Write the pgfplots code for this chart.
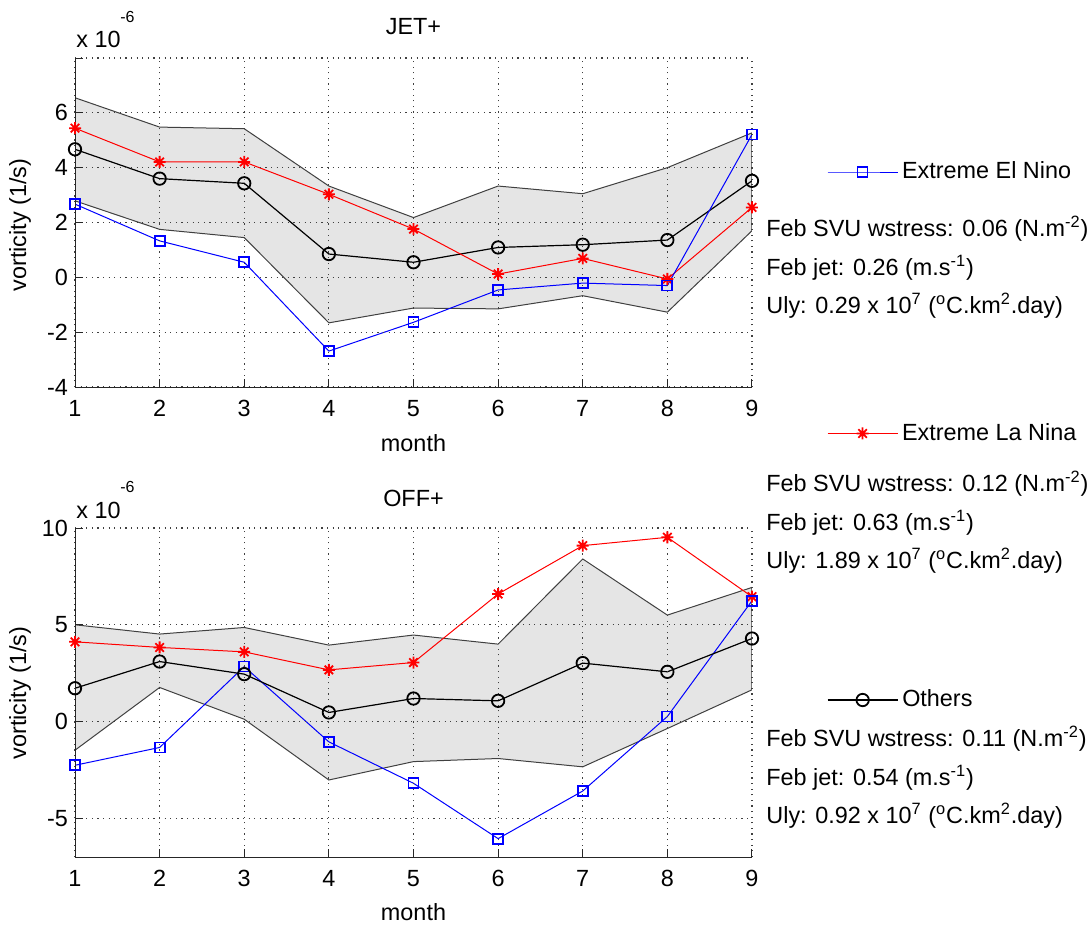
\documentclass[border=0pt]{standalone}
\usepackage{fontspec}
\setmainfont{Liberation Sans}
\usepackage{pgfplots}
\pgfplotsset{compat=1.18}
\def\fsz{\fontsize{11.7}{14}\selectfont}
\pgfdeclareplotmark{ast8}{%
 \pgfpathmoveto{\pgfpoint{-\pgfplotmarksize}{0pt}}\pgfpathlineto{\pgfpoint{\pgfplotmarksize}{0pt}}%
 \pgfpathmoveto{\pgfpoint{0pt}{-\pgfplotmarksize}}\pgfpathlineto{\pgfpoint{0pt}{\pgfplotmarksize}}%
 \pgfpathmoveto{\pgfpoint{-0.707\pgfplotmarksize}{-0.707\pgfplotmarksize}}\pgfpathlineto{\pgfpoint{0.707\pgfplotmarksize}{0.707\pgfplotmarksize}}%
 \pgfpathmoveto{\pgfpoint{-0.707\pgfplotmarksize}{0.707\pgfplotmarksize}}\pgfpathlineto{\pgfpoint{0.707\pgfplotmarksize}{-0.707\pgfplotmarksize}}%
 \pgfusepathqstroke}
\definecolor{bandfill}{gray}{0.9}
\definecolor{bandedge}{gray}{0.25}
\pgfplotsset{
 myax/.style={scale only axis, width=338.5pt, height=164.5pt,
  xmin=1, xmax=9, xtick={1,...,9},
  axis x line*=bottom, axis y line*=left,
  axis line style={-, black!85, line width=0.5pt},
  tick style={black!85, line width=0.5pt}, major tick length=4pt,
  xmajorgrids, ymajorgrids,
  grid style={black!75, line width=0.6pt, dash pattern=on 0.6pt off 2.2pt},
  axis on top,
  /pgf/number format/assume math mode=true,
  tick label style={font=\fsz},
  xticklabel style={yshift=-3pt},
  legend cell align=left,
  legend image code/.code={\draw[mark repeat=2,mark phase=2,#1] plot coordinates {(0pt,0pt) (17.5pt,0pt) (35pt,0pt)};},
  legend style={draw=none, fill=none, inner sep=0pt, anchor=west, font=\fsz},
 },
 bandst/.style={fill=bandfill, draw=bandedge, line width=0.5pt, forget plot},
 blst/.style={blue, line width=0.5pt, mark=square, mark size=2.5pt, mark options={line width=0.9pt, solid}},
 rdst/.style={red, line width=0.5pt, mark=ast8, mark size=3pt, mark options={line width=0.9pt, solid}},
 bkst/.style={black, line width=0.6pt, mark=o, mark size=3.1pt, mark options={line width=0.9pt, solid}},
}
\begin{document}
\begin{tikzpicture}[font=\fsz]
\useasboundingbox (0pt,0pt) rectangle (545.5pt,-463.5pt);
% ---------------- top axis: JET+
\begin{axis}[myax, at={(37.5pt,-193.5pt)}, anchor=south west,
  ymin=-4, ymax=8, ytick={-4,-2,0,2,4,6,8}, yticklabels={-4,-2,0,2,4,6,{}},
  xticklabels={1,2,3,4,5,6,7,8,9},
  legend style={at={(rel axis cs:1.1103,0.6535)}}]
\addplot[bandst] coordinates {(1,6.55) (2,5.48) (3,5.42) (4,3.33) (5,2.18) (6,3.33) (7,3.05) (8,4.00) (9,5.27)
  (9,1.70) (8,-1.27) (7,-0.67) (6,-1.15) (5,-1.12) (4,-1.66) (3,1.45) (2,1.75) (1,2.79)} -- cycle;
\addplot[bkst, forget plot] coordinates {(1,4.67) (2,3.60) (3,3.43) (4,0.85) (5,0.55) (6,1.09) (7,1.19) (8,1.36) (9,3.52)};
\addplot[rdst, forget plot] coordinates {(1,5.44) (2,4.21) (3,4.21) (4,3.03) (5,1.76) (6,0.12) (7,0.69) (8,-0.06) (9,2.55)};
\addplot[blst] coordinates {(1,2.67) (2,1.33) (3,0.55) (4,-2.69) (5,-1.64) (6,-0.46) (7,-0.21) (8,-0.30) (9,5.21)};
\addlegendentry{Extreme El Nino}
\end{axis}
% hidden axis for La Nina legend
\begin{axis}[myax, hide axis, at={(37.5pt,-193.5pt)}, anchor=south west,
  ymin=-4, ymax=8,
  legend style={at={(rel axis cs:1.1103,-0.1413)}}]
\addlegendimage{rdst}
\addlegendentry{Extreme La Nina}
\end{axis}
% ---------------- bottom axis: OFF+
\begin{axis}[myax, at={(37.5pt,-428.5pt)}, anchor=south west,
  ymin=-7, ymax=10, ytick={-5,0,5,10}, yticklabels={-5,0,5,10},
  xticklabels={1,2,3,4,5,6,7,8,9},
  legend style={at={(rel axis cs:1.1103,0.4772)}}]
\addplot[bandst] coordinates {(1,5.00) (2,4.52) (3,4.86) (4,3.95) (5,4.47) (6,4.00) (7,8.40) (8,5.50) (9,6.93)
  (9,1.64) (8,-0.36) (7,-2.34) (6,-1.91) (5,-2.07) (4,-3.02) (3,0.12) (2,1.76) (1,-1.48)} -- cycle;
\addplot[rdst, forget plot] coordinates {(1,4.12) (2,3.83) (3,3.60) (4,2.67) (5,3.05) (6,6.59) (7,9.09) (8,9.52) (9,6.45)};
\addplot[blst, forget plot] coordinates {(1,-2.26) (2,-1.34) (3,2.84) (4,-1.05) (5,-3.19) (6,-6.05) (7,-3.59) (8,0.26) (9,6.24)};
\addplot[bkst] coordinates {(1,1.72) (2,3.10) (3,2.45) (4,0.47) (5,1.19) (6,1.07) (7,3.02) (8,2.57) (9,4.29)};
\addlegendentry{Others}
\end{axis}
% ---------------- texts
\node at (206.75pt,-13.5pt) {JET+};
\node at (206.75pt,-249pt) {OFF+};
\node at (206.75pt,-221.5pt) {month};
\node at (206.75pt,-456pt) {month};
\node[rotate=90] at (10pt,-112.5pt) {vorticity (1/s)};
\node[rotate=90] at (10pt,-346.5pt) {vorticity (1/s)};
\node[anchor=base west, inner sep=0pt] at (38pt,-23.5pt) {x 10};
\node[anchor=base west, inner sep=0pt, font=\fontsize{8}{9}\selectfont] at (60pt,-11pt) {-6};
\node[anchor=base west, inner sep=0pt] at (38pt,-259pt) {x 10};
\node[anchor=base west, inner sep=0pt, font=\fontsize{8}{9}\selectfont] at (60pt,-246pt) {-6};
\begin{scope}[every node/.style={anchor=base west, inner sep=0pt}]
\node at (383pt,-118pt) {Feb SVU wstress: 0.06 (N.m\textsuperscript{-2})};
\node at (383pt,-137.5pt) {Feb jet: 0.26 (m.s\textsuperscript{-1})};
\node at (383pt,-156.5pt) {Uly: 0.29 x 10\textsuperscript{7} (\textsuperscript{o}C.km\textsuperscript{2}.day)};
\node at (383pt,-245.5pt) {Feb SVU wstress: 0.12 (N.m\textsuperscript{-2})};
\node at (383pt,-265pt) {Feb jet: 0.63 (m.s\textsuperscript{-1})};
\node at (383pt,-284pt) {Uly: 1.89 x 10\textsuperscript{7} (\textsuperscript{o}C.km\textsuperscript{2}.day)};
\node at (383pt,-373pt) {Feb SVU wstress: 0.11 (N.m\textsuperscript{-2})};
\node at (383pt,-392.5pt) {Feb jet: 0.54 (m.s\textsuperscript{-1})};
\node at (383pt,-411.5pt) {Uly: 0.92 x 10\textsuperscript{7} (\textsuperscript{o}C.km\textsuperscript{2}.day)};
\end{scope}
\end{tikzpicture}
\end{document}
